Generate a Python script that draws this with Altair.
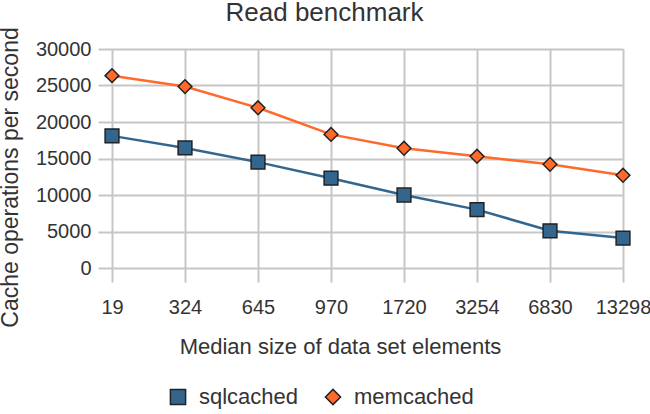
import altair as alt
import pandas as pd

sizes = ["19", "324", "645", "970", "1720", "3254", "6830", "13298"]
sqlcached = [18100, 16450, 14500, 12300, 10000, 8000, 5100, 4100]
memcached = [26350, 24850, 21950, 18300, 16400, 15300, 14200, 12700]
series = ["sqlcached", "memcached"]
colors = ["#33668f", "#ff6a2b"]
shapes = ["square", "diamond"]
y_ticks = [0, 5000, 10000, 15000, 20000, 25000, 30000]

rows = []
for name, vals in zip(series, [sqlcached, memcached]):
    for s, v in zip(sizes, vals):
        rows.append({"size": s, "ops": v, "series": name})
df = pd.DataFrame(rows)

FONT = "Liberation Sans"
TXT = "#333333"
GRID = "#c6c6c6"

x_enc = alt.X(
    "size:N",
    sort=sizes,
    scale=alt.Scale(type="point", padding=0),
    axis=alt.Axis(
        title="Median size of data set elements",
        labelAngle=0,
        labelFont=FONT,
        labelFontSize=20,
        labelColor=TXT,
        labelPadding=15,
        labelOverlap=False,
        labelFlush=False,
        tickSize=14,
        tickWidth=2,
        tickColor=GRID,
        domain=False,
        grid=True,
        gridColor=GRID,
        gridWidth=2,
        titleFont=FONT,
        titleFontSize=22,
        titleFontWeight="normal",
        titleColor=TXT,
        titleX=228,
        titleY=85,
        titleAlign="center",
        titleBaseline="alphabetic",
    ),
)

y_enc = alt.Y(
    "ops:Q",
    scale=alt.Scale(domain=[0, 30000], nice=False),
    axis=alt.Axis(
        title="Cache operations per second",
        values=y_ticks,
        format="d",
        labelFont=FONT,
        labelFontSize=20,
        labelColor=TXT,
        labelPadding=7,
        tickSize=14,
        tickWidth=2,
        tickColor=GRID,
        domain=False,
        grid=True,
        gridColor=GRID,
        gridWidth=2,
        titleFont=FONT,
        titleFontSize=23,
        titleFontWeight="normal",
        titleColor=TXT,
        titleAngle=270,
        titleX=-102,
        titleY=128,
        titleAlign="center",
        titleBaseline="middle",
    ),
)

legend_def = alt.Legend(
    title=None,
    orient="none",
    legendX=55,
    legendY=337,
    direction="horizontal",
    labelFont=FONT,
    labelFontSize=22,
    labelColor=TXT,
    labelOffset=10,
    columnPadding=23,
    symbolSize=230,
    symbolStrokeColor="#222222",
    symbolStrokeWidth=1.5,
    padding=0,
)

line_layers = []
for name, col in zip(series, colors):
    line_layers.append(
        alt.Chart(df)
        .transform_filter(alt.datum.series == name)
        .mark_line(strokeWidth=2.5, color=col)
        .encode(x=x_enc, y=y_enc)
    )

points = alt.Chart(df).mark_point(
    filled=True, size=190, stroke="#222222", strokeWidth=1.5, opacity=1
).encode(
    x=x_enc,
    y=y_enc,
    color=alt.Color("series:N", scale=alt.Scale(domain=series, range=colors), legend=legend_def),
    shape=alt.Shape("series:N", scale=alt.Scale(domain=series, range=shapes), legend=legend_def),
)

chart = (
    alt.layer(*line_layers, points)
    .properties(
        width=511,
        height=219,
        autosize="none",
        padding={"left": 112, "top": 49, "right": 27, "bottom": 146},
        title=alt.Title(
            "Read benchmark",
            font=FONT,
            fontSize=26,
            fontWeight="normal",
            color=TXT,
            anchor="middle",
            dx=-43,
            dy=25,
            baseline="alphabetic",
            offset=5,
        ),
    )
    .configure_view(stroke=None)
    .configure(background="white")
)

chart.save("out.html", embed_options={"renderer": "svg", "actions": False})
